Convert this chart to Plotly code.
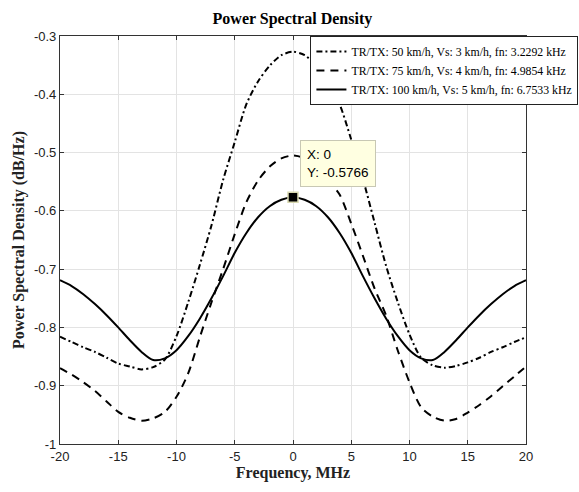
import plotly.graph_objects as go

# ---- data ----
freq_mhz = list(range(-20, 21))

psd_50kmh = [-0.816, -0.825, -0.834, -0.842, -0.852, -0.862, -0.867, -0.872, -0.868, -0.855,
             -0.815, -0.757, -0.693, -0.625, -0.547, -0.482, -0.417, -0.378, -0.351, -0.333,
             -0.327,
             -0.333, -0.351, -0.378, -0.417, -0.478, -0.545, -0.620, -0.695, -0.757, -0.812,
             -0.852, -0.865, -0.869, -0.866, -0.860, -0.852, -0.842, -0.834, -0.825, -0.817]

psd_75kmh = [-0.870, -0.881, -0.894, -0.909, -0.927, -0.945, -0.955, -0.960, -0.956, -0.945,
             -0.919, -0.879, -0.817, -0.757, -0.700, -0.640, -0.585, -0.548, -0.524, -0.510,
             -0.505,
             -0.510, -0.526, -0.547, -0.572, -0.622, -0.677, -0.733, -0.780, -0.840, -0.894,
             -0.937, -0.953, -0.960, -0.957, -0.946, -0.933, -0.918, -0.901, -0.884, -0.867]

psd_100kmh = [-0.719, -0.729, -0.743, -0.760, -0.779, -0.800, -0.822, -0.842, -0.856, -0.853,
              -0.839, -0.815, -0.785, -0.750, -0.712, -0.672, -0.638, -0.611, -0.592, -0.581,
              -0.5766,
              -0.581, -0.592, -0.611, -0.638, -0.672, -0.712, -0.750, -0.785, -0.815, -0.839,
              -0.853, -0.856, -0.842, -0.822, -0.800, -0.779, -0.760, -0.743, -0.729, -0.719]

series_names = ["TR/TX: 50 km/h, Vs: 3 km/h, fn: 3.2292 kHz",
                "TR/TX: 75 km/h, Vs: 4 km/h, fn: 4.9854 kHz",
                "TR/TX: 100 km/h, Vs: 5 km/h, fn: 6.7533 kHz"]

datatip_x = [0]
datatip_y = [-0.5766]

x_tickvals = [-20, -15, -10, -5, 0, 5, 10, 15, 20]
x_ticktext = ["-20", "-15", "-10", "-5", "0", "5", "10", "15", "20"]
y_tickvals = [-0.3, -0.4, -0.5, -0.6, -0.7, -0.8, -0.9, -1.0]
y_ticktext = ["-0.3", "-0.4", "-0.5", "-0.6", "-0.7", "-0.8", "-0.9", "-1"]

# ---- figure ----
fig = go.Figure()
styles = ["6px,3px,2px,3px", "8px,6px", "solid"]
for name, ys, dash in zip(series_names, [psd_50kmh, psd_75kmh, psd_100kmh], styles):
    fig.add_trace(go.Scatter(x=freq_mhz, y=ys, mode="lines", name=name,
                             line=dict(color="black", width=2, dash=dash, shape="spline",
                                       smoothing=0.8)))

fig.add_trace(go.Scatter(x=datatip_x, y=datatip_y, mode="markers", showlegend=False,
                         marker=dict(symbol="square", size=10, color="black",
                                     line=dict(color="#d8d8b0", width=1.5))))

fig.add_annotation(x=datatip_x[0], y=datatip_y[0], xref="x", yref="y",
                   text="X: 0<br>Y: -0.5766", showarrow=False, align="left",
                   xanchor="left", yanchor="bottom", xshift=7, yshift=10,
                   bgcolor="#ffffe1", bordercolor="#c8c8b4", borderwidth=1, borderpad=6,
                   font=dict(family="Liberation Sans, Arial, sans-serif", size=13.5, color="black"))

axis_common = dict(showgrid=True, gridcolor="#e3e3e3", gridwidth=1,
                   showline=True, linecolor="#333333", linewidth=1.2, mirror="ticks",
                   ticks="inside", ticklen=4, tickcolor="#333333", zeroline=False,
                   tickfont=dict(family="Liberation Sans, Arial, sans-serif", size=13, color="#222222"))

fig.update_xaxes(range=[-20, 20], tickvals=x_tickvals, ticktext=x_ticktext,
                 title=dict(text="<b>Frequency, MHz</b>", standoff=4,
                            font=dict(family="Liberation Serif, Times New Roman, serif", size=16, color="#222222")),
                 **axis_common)
fig.update_yaxes(range=[-1, -0.3], tickvals=y_tickvals, ticktext=y_ticktext,
                 title=dict(text="<b>Power Spectral Density (dB/Hz)</b>", standoff=5,
                            font=dict(family="Liberation Serif, Times New Roman, serif", size=16, color="#222222")),
                 **axis_common)

fig.update_layout(
    width=579, height=492,
    margin=dict(l=60, r=53, t=36, b=48, autoexpand=False),
    paper_bgcolor="white", plot_bgcolor="white",
    title=dict(text="<b>Power Spectral Density</b>", x=0.505, xanchor="center",
               y=0.963, yanchor="middle",
               font=dict(family="Liberation Serif, Times New Roman, serif", size=16, color="black")),
    legend=dict(xref="container", yref="container", x=0.999, y=1 - 36 / 492,
                xanchor="right", yanchor="top", bgcolor="white", bordercolor="#222222",
                borderwidth=1, itemwidth=30, tracegroupgap=0,
                font=dict(family="Liberation Serif, Times New Roman, serif", size=11.8, color="black")),
    showlegend=True,
)

fig.write_html("out.html", config={"displayModeBar": False},
               post_script="document.body.style.margin='0';")
